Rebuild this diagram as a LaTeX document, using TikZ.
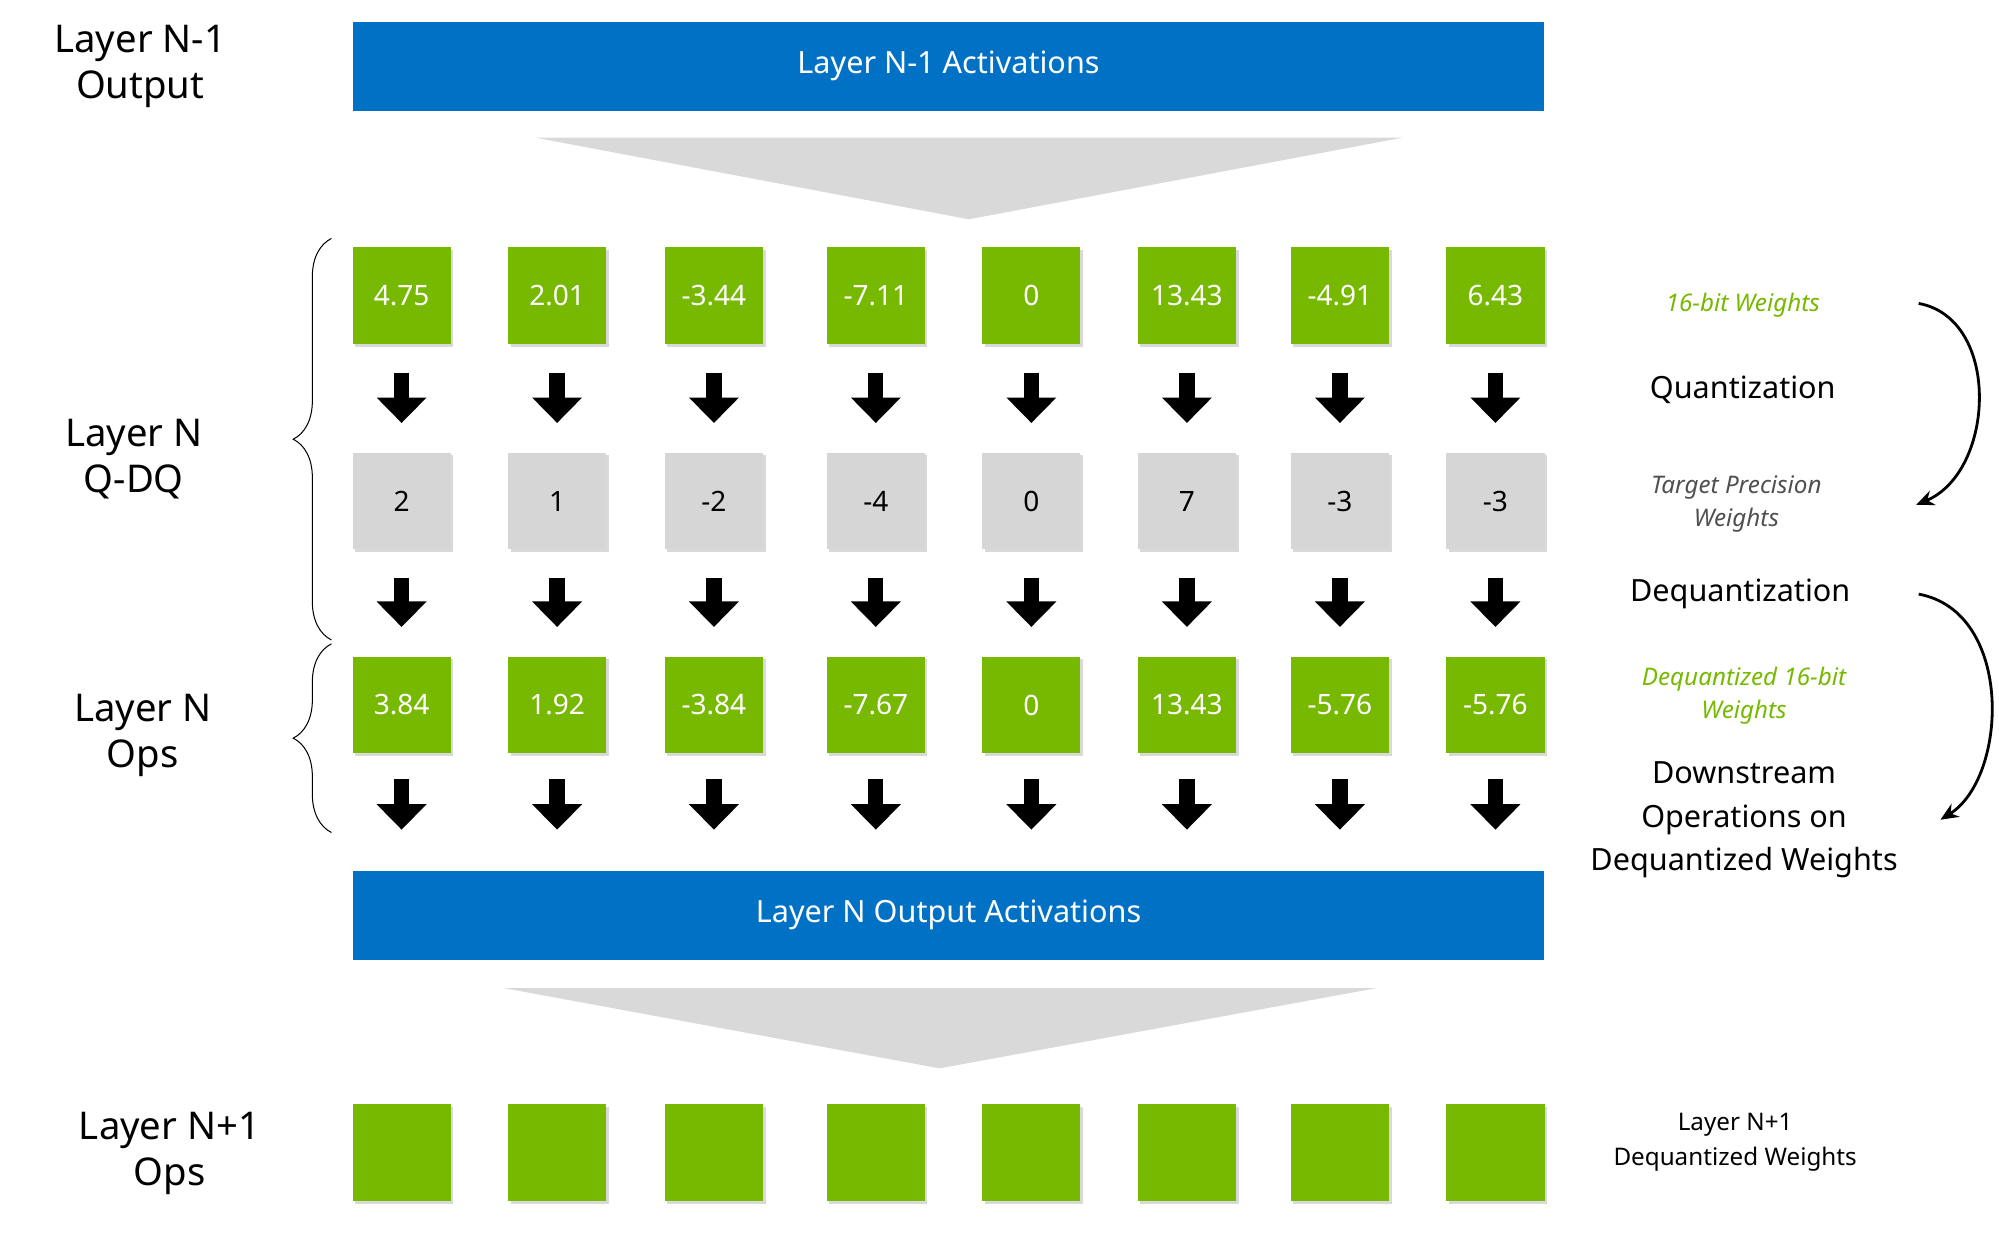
\documentclass[tikz,border=0pt]{standalone}
\usepackage{fontspec}
\setmainfont{Noto Sans}
\usetikzlibrary{arrows.meta, calc, shadows, decorations.pathreplacing}
\definecolor{nvgreen}{RGB}{118,185,0}
\definecolor{nvblue}{RGB}{0,113,197}
\definecolor{boxgray}{RGB}{214,214,214}
\definecolor{funnel}{RGB}{217,217,217}
\definecolor{txtgray}{RGB}{80,80,80}
\tikzset{%
    gbox/.style={rectangle, fill=nvgreen, minimum width=77pt, minimum height=76pt, inner sep=0pt,
        text=white, font=\fontsize{22}{24}\selectfont, drop shadow={shadow xshift=2pt, shadow yshift=-2pt, opacity=0.3}},
    qbox/.style={gbox, fill=boxgray, text=black},
    bar/.style={rectangle, fill=nvblue, minimum width=934pt, minimum height=70pt, inner sep=0pt,
        text=white, font=\fontsize{24}{26}\selectfont},
    lab/.style={align=center, font=\fontsize{30}{36}\selectfont},
    rlab/.style={align=center, font=\bfseries\fontsize{24}{29}\selectfont},
    ilab/.style={align=center, font=\bfseries\itshape\fontsize{19}{26}\selectfont},
    darr/.style={line width=12pt, -{Triangle[width=38pt,length=20pt]}},
    brc/.style={decorate, decoration={brace, amplitude=30pt, aspect=0.5}, line width=0.8pt},
    carr/.style={line width=2.2pt, -{Stealth[length=14pt,width=12pt]}},
}
\begin{document}
\begin{tikzpicture}[x=1pt, y=-1pt]
    \useasboundingbox (0,0) rectangle (1568,967);
    % bars and funnels
    \node [bar] (bar1) at (744,52) {Layer N-1 Activations};
    \node [bar] (bar2) at (744,718) {Layer N Output Activations};
    \fill [funnel] (420,108) -- (1100,108) -- (760,172) -- cycle;
    \fill [funnel] (395,775) -- (1080,775) -- (737,838) -- cycle;
    % weight columns
    \foreach \x/\w/\q/\d [count=\i] in {315/4.75/2/3.84, 437/2.01/1/1.92, 560/-3.44/-2/-3.84,
        687/-7.11/-4/-7.67, 809/0/0/0, 931/13.43/7/13.43, 1051/-4.91/-3/-5.76, 1173/6.43/-3/-5.76}{
        \node [gbox] (w-\i) at (\x,232) {\w};
        \node [qbox] (q-\i) at (\x,393) {\q};
        \node [gbox] (d-\i) at (\x,553) {\d};
        \node [gbox] (n-\i) at (\x,904) {};
        \draw [darr, shorten <=22pt, shorten >=23pt] (w-\i.south) -- (q-\i.north);
        \draw [darr, shorten <=22pt, shorten >=23pt] (q-\i.south) -- (d-\i.north);
        \draw [darr, shorten <=20pt, shorten >=32pt] (d-\i.south) -- (d-\i.south |- bar2.north);
    }
    % left labels
    \node [lab] (l1) at (110,52) {Layer N-1\\Output};
    \node [lab] (l2) at (105,360) {Layer N\\Q-DQ};
    \node [lab] (l3) at (112,577) {Layer N\\Ops};
    \node [lab] (l4) at (133,905) {Layer N+1\\Ops};
    \draw [brc] (260,502) -- (260,187);
    \draw [brc] (260,653) -- (260,505);
    % right labels
    \node [ilab, text=nvgreen] (r1) at (1367,239) {16-bit Weights};
    \node [rlab] (r2) at (1367,306) {Quantization};
    \node [ilab, text=txtgray] (r3) at (1362,395) {Target Precision\\Weights};
    \node [rlab] (r4) at (1365,466) {Dequantization};
    \node [ilab, text=nvgreen] (r5) at (1368,546) {Dequantized 16-bit\\Weights};
    \node [rlab, font=\bfseries\fontsize{24}{34}\selectfont] (r6) at (1368,643) {Downstream\\Operations on\\Dequantized Weights};
    \node [rlab, font=\bfseries\fontsize{19}{28}\selectfont] (r7) at (1361,896) {Layer N+1\\Dequantized Weights};
    \coordinate (c1) at (1505,238);
    \coordinate (c2) at (1503,396);
    \coordinate (c3) at (1505,466);
    \coordinate (c4) at (1522,643);
    \draw [carr] (c1) .. controls (1570,250) and (1565,370) .. (c2);
    \draw [carr] (c3) .. controls (1580,480) and (1575,610) .. (c4);
\end{tikzpicture}
\end{document}
